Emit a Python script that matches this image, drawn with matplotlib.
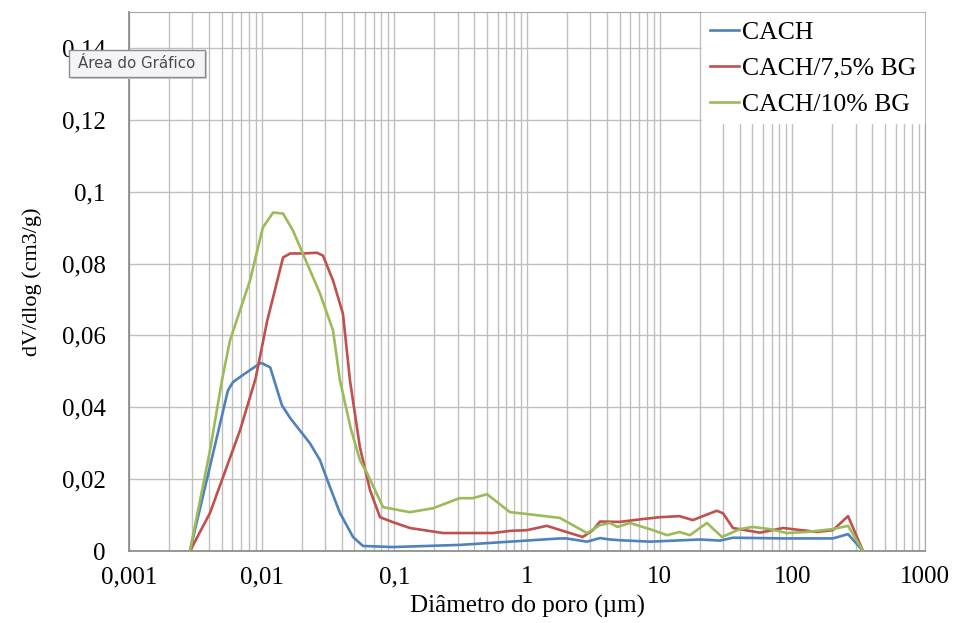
import numpy as np
import matplotlib
matplotlib.use('Agg')
import matplotlib.pyplot as plt
from matplotlib.ticker import FuncFormatter, FixedLocator, MultipleLocator
from matplotlib.patches import Rectangle

# valores (diametro em um, dV/dlog em cm3/g)
x_cach = [0.00288, 0.00557, 0.00608, 0.00723, 0.0097, 0.0100, 0.0116, 0.0142, 0.0164,
          0.0231, 0.0275, 0.0327, 0.0389, 0.0488, 0.058, 0.0978, 0.313, 0.745, 1.77,
          1.98, 2.83, 3.55, 4.22, 5.0, 8.46, 20.1, 28.5, 35.7, 85, 202, 263, 341]
y_cach = [0.0, 0.0447, 0.047, 0.049, 0.0522, 0.0523, 0.0511, 0.0406, 0.037,
          0.030, 0.0253, 0.0178, 0.0106, 0.0039, 0.0014, 0.0011, 0.0017, 0.0026, 0.0035,
          0.0035, 0.0026, 0.0036, 0.0032, 0.003, 0.0026, 0.0032, 0.0029, 0.0037, 0.0035, 0.0035, 0.0047, 0.0]

x_bg75 = [0.00288, 0.00408, 0.00687, 0.0090, 0.011, 0.0145, 0.0164, 0.0205, 0.0261, 0.029,
          0.0345, 0.041, 0.0463, 0.055, 0.0655, 0.078, 0.098, 0.131, 0.233, 0.555, 0.745,
          1.0, 1.41, 1.98, 2.63, 3.14, 3.55, 5.0, 7.1, 10, 14.1, 17.8, 26.9, 30, 35.7,
          57, 85, 153, 202, 263, 341]
y_bg75 = [0.0, 0.0106, 0.0336, 0.048, 0.064, 0.0817, 0.0828, 0.0828, 0.083, 0.0822,
          0.0753, 0.066, 0.0475, 0.0289, 0.017, 0.0094, 0.008, 0.0064, 0.005, 0.005, 0.0056,
          0.0058, 0.007, 0.0053, 0.0039, 0.0058, 0.0082, 0.0081, 0.0088, 0.0094, 0.0097, 0.0086, 0.0112, 0.0105, 0.0064,
          0.0051, 0.0064, 0.0053, 0.0058, 0.0097, 0.0]

x_bg10 = [0.00288, 0.00408, 0.00502, 0.00577, 0.00817, 0.0102, 0.0122, 0.0145, 0.0172, 0.022,
          0.0275, 0.0345, 0.0389, 0.047, 0.055, 0.0622, 0.0822, 0.131, 0.196, 0.31, 0.39, 0.50,
          0.745, 1.0, 1.77, 2.83, 3.55, 4.22, 4.8, 5.97, 8.9, 11.4, 14.1, 16.9, 22.7, 29.5,
          40.3, 50, 67.6, 91, 129, 202, 263, 341]
y_bg10 = [0.0, 0.028, 0.0475, 0.0586, 0.0753, 0.09, 0.0942, 0.0939, 0.0892, 0.080,
          0.0717, 0.0614, 0.0475, 0.034, 0.0253, 0.0217, 0.0122, 0.0108, 0.0119, 0.0147, 0.0147, 0.0158,
          0.0108, 0.0103, 0.0092, 0.005, 0.0072, 0.0078, 0.0067, 0.0078, 0.0058, 0.0044, 0.0053, 0.0044, 0.0078, 0.0039,
          0.0061, 0.0067, 0.0061, 0.005, 0.0053, 0.0061, 0.007, 0.0]

series = ['CACH', 'CACH/7,5% BG', 'CACH/10% BG']
cores = ['#4F81BD', '#C0504D', '#9BBB59']
x_ticks = [0.001, 0.01, 0.1, 1, 10, 100, 1000]
y_ticks = [0, 0.02, 0.04, 0.06, 0.08, 0.1, 0.12, 0.14]

plt.rcParams['font.family'] = ['Liberation Serif', 'DejaVu Serif']

fig = plt.figure(figsize=(9.55, 6.23), dpi=100)
ax = fig.add_axes([129/955, 72/623, 796/955, 539/623])

for xs, ys, nome, cor in zip([x_cach, x_bg75, x_bg10], [y_cach, y_bg75, y_bg10], series, cores):
    ax.plot(xs, ys, color=cor, lw=1.9, label=nome, solid_joinstyle='round', zorder=3)

ax.set_xscale('log')
ax.set_xlim(0.001, 1000)
ax.set_ylim(0, 0.15)
minors = [m * t for t in x_ticks[:-1] for m in range(2, 10)]
ax.xaxis.set_major_locator(FixedLocator(x_ticks))
ax.xaxis.set_minor_locator(FixedLocator(minors))
ax.yaxis.set_major_locator(FixedLocator(y_ticks))

ax.xaxis.set_major_formatter(FuncFormatter(lambda v, p: ('%g' % v).replace('.', ',')))
ax.yaxis.set_major_formatter(FuncFormatter(lambda v, p: ('%g' % round(v, 3)).replace('.', ',')))
ax.xaxis.set_minor_formatter(FuncFormatter(lambda v, p: ''))

ax.grid(True, which='major', color='#BFBFBF', lw=1.0)
ax.grid(True, which='minor', axis='x', color='#BFBFBF', lw=1.0)
ax.tick_params(axis='both', which='both', length=0, labelsize=18)
ax.tick_params(axis='y', pad=17)
ax.tick_params(axis='x', pad=11)
for s in ['top', 'right']:
    ax.spines[s].set_color('#A6A6A6')
for s in ['left', 'bottom']:
    ax.spines[s].set_color('#868686')
    ax.spines[s].set_linewidth(1.2)

ax.set_xlabel('Diâmetro do poro (µm)', fontsize=18, labelpad=5)
ax.set_ylabel('dV/dlog (cm3/g)', fontsize=16, labelpad=14)

leg = ax.legend(loc='upper right', fontsize=18.5, frameon=True, fancybox=False,
                framealpha=1, edgecolor='white', borderaxespad=0.05,
                handlelength=1.15, handletextpad=0.1, labelspacing=0.5, borderpad=0.3)
leg.set_zorder(5)

# dica de tela do Excel
fig.patches.append(Rectangle((71/955, 544/623), 136/955, 27/623, transform=fig.transFigure,
                             facecolor='#D0D0D0', edgecolor='none', zorder=9))
fig.patches.append(Rectangle((69/955, 546/623), 136/955, 27/623, transform=fig.transFigure,
                             facecolor='#F4F4F8', edgecolor='#8C8C8C', lw=1.0, zorder=10))
fig.text(137/955, 559.5/623, 'Área do Gráfico', family='DejaVu Sans', fontsize=10.8,
         color='#4A4A4A', ha='center', va='center', zorder=11)

fig.savefig('out.png', dpi=100)
